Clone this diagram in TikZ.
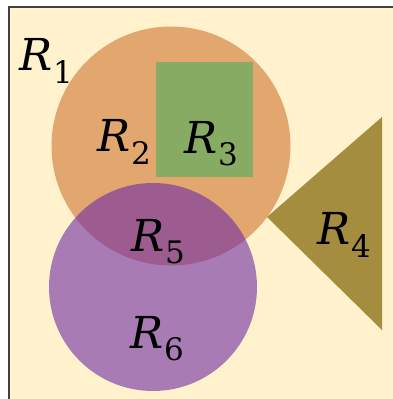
\documentclass[tikz,border=0pt]{standalone}
\usepackage{fontspec}
\setmainfont{DejaVu Serif}
\definecolor{bg}{RGB}{255,242,204}
\definecolor{orng}{RGB}{226,166,111}
\definecolor{grn}{RGB}{136,171,100}
\definecolor{purp}{RGB}{112,44,166}
\definecolor{tri}{RGB}{165,141,64}
\definecolor{frame}{RGB}{64,64,64}
\newcommand{\reglbl}[1]{{\itshape R}\kern0.02em\raisebox{-0.28em}{\fontsize{31}{31}\selectfont #1}}
\tikzset{lbl/.style={inner sep=0pt,font=\fontsize{44}{44}\selectfont}}
\begin{document}
\begin{tikzpicture}[x=1pt,y=-1pt]
\useasboundingbox (0,0) rectangle (392,399);
\fill[bg] (9,7) rectangle (400,410);
\draw[frame,line width=1.6pt] (9,410) -- (9,7) -- (400,7);
\fill[orng] (171,146) circle (119.5);
\fill[grn] (156,62) rectangle (253,177);
\fill[tri] (267,217) -- (382,117) -- (382,330) -- cycle;
\fill[purp,fill opacity=0.6] (153,287) circle (104);
\node[lbl] (r1) at (46,61) {\reglbl{1}};
\node[lbl] (r2) at (124,142) {\reglbl{2}};
\node[lbl] (r3) at (211,144) {\reglbl{3}};
\node[lbl] (r4) at (344,235) {\reglbl{4}};
\node[lbl] (r5) at (158,242) {\reglbl{5}};
\node[lbl] (r6) at (157,339) {\reglbl{6}};
\end{tikzpicture}
\end{document}
